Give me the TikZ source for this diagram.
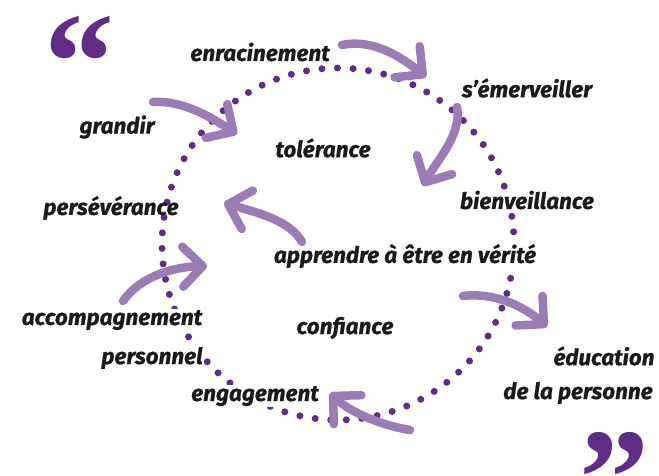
\documentclass[tikz,border=0pt]{standalone}
\usepackage{fontspec}
\setmainfont{Fira Sans}[BoldItalicFeatures={FakeBold=0.8}]
\newfontfamily\guillfont{Liberation Serif}
\usetikzlibrary{arrows.meta}
\definecolor{encre}{HTML}{1A1A1A}
\definecolor{pointviolet}{HTML}{5F2D87}
\definecolor{mauve}{HTML}{9B7DB5}
\begin{document}
\begin{tikzpicture}[x=1pt,y=-1pt,
  mot/.style={font=\fontsize{22.5}{25}\selectfont\bfseries\itshape, text=encre, inner sep=1pt},
  cache/.style={fill=white},
  point/.style={fill=pointviolet},
  fleche/.style={draw=mauve, line width=8.5pt, line cap=round,
    -{Straight Barb[length=20pt,width=40pt,round]}},
  guillemet/.style={font=\guillfont\bfseries\fontsize{140}{140}\selectfont, text=pointviolet, inner sep=0pt}]
\useasboundingbox (0,0) rectangle (659,476);
\coordinate (centre) at (338,244);
% cercle en pointilles
\foreach \a in {0,...,70}
{
\fill[point] (centre) ++({1.1+\a*5.0704}:176) circle (3.5pt);
}
\node[guillemet] (ouvre) at (80,63) {“};
\node[guillemet] (ferme) at (614,479) {”};
\node[mot] (enr) at (260,52) {enracinement};
\node[mot] (emer) at (527,88) {s'émerveiller};
\node[mot] (grandir) at (117,127) {grandir};
\node[mot] (tol) at (323,148) {tolérance};
\node[mot,cache] (bienv) at (527,200) {bienveillance};
\node[mot] (pers) at (111,208) {persévérance};
\node[mot,cache] (appr) at (405,256) {apprendre à être en vérité};
\node[mot,cache] (accomp) at (112,320) {accompagnement};
\node[mot,cache] (perso) at (152,358) {personnel};
\node[mot] (conf) at (345,328) {confiance};
\node[mot] (educ) at (604,356) {éducation};
\node[mot] (perso2) at (578,393) {de la personne};
\node[mot,cache] (eng) at (255,396) {engagement};
% fleches
\coordinate (q1) at (342,45);   \coordinate (p1) at (426,77);
\coordinate (q2) at (457,107);  \coordinate (p2) at (423,186);
\coordinate (q3) at (153,102);  \coordinate (p3) at (237,134);
\coordinate (q4) at (302,242);  \coordinate (p4) at (224,203);
\coordinate (q5) at (123,301);  \coordinate (p5) at (207,266);
\coordinate (q6) at (463,296);  \coordinate (p6) at (547,327);
\coordinate (q7) at (410,430);  \coordinate (p7) at (330,393);
\draw[fleche] (q1) .. controls (375,38) and (405,60) .. (p1);
\draw[fleche] (q2) .. controls (462,135) and (437,160) .. (p2);
\draw[fleche] (q3) .. controls (185,100) and (215,120) .. (p3);
\draw[fleche] (q4) .. controls (290,220) and (255,212) .. (p4);
\draw[fleche] (q5) .. controls (140,277) and (172,267) .. (p5);
\draw[fleche] (q6) .. controls (495,292) and (525,307) .. (p6);
\draw[fleche] (q7) .. controls (380,425) and (350,412) .. (p7);
\end{tikzpicture}
\end{document}
